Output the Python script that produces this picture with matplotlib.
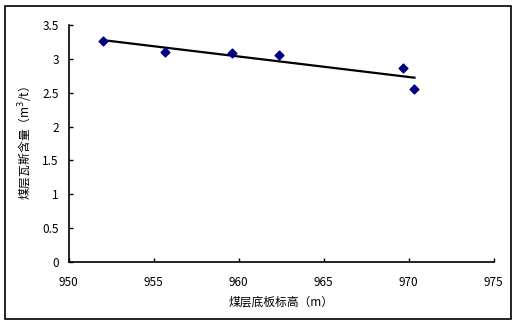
import matplotlib

matplotlib.use("Agg")

import matplotlib.pyplot as plt  # noqa: E402
import numpy as np  # noqa: E402
from matplotlib.patches import Rectangle  # noqa: E402

plt.rcParams["font.family"] = ["Noto Sans CJK SC", "DejaVu Sans"]

# 煤层底板标高 (m) 与 瓦斯含量 (m3/t)
elevation = [952.0, 955.65, 959.6, 962.4, 969.65, 970.35]
gas_content = [3.27, 3.10, 3.08, 3.05, 2.86, 2.56]
x_ticks = [950, 955, 960, 965, 970, 975]
y_ticks = [0, 0.5, 1, 1.5, 2, 2.5, 3, 3.5]

fig = plt.figure(figsize=(5.2, 3.25), dpi=100)
ax = fig.add_axes([68.5 / 520, 1 - 262 / 325, 425 / 520, 237 / 325])

ax.scatter(elevation, gas_content, marker="D", s=20, color="#000080", zorder=3)

# 线性趋势线
k, b = np.polyfit(elevation, gas_content, 1)
xs = np.array([min(elevation), max(elevation)])
ax.plot(xs, k * xs + b, color="black", linewidth=1.6, zorder=2)

ax.set_xlim(950, 975)
ax.set_ylim(0, 3.5)
ax.set_xticks(x_ticks)
ax.set_yticks(y_ticks)
ax.set_yticklabels([f"{v:g}" for v in y_ticks])
ax.tick_params(direction="in", length=3, width=1, labelsize=8.5, pad=7)
ax.tick_params(axis="x", pad=10)
for side in ("top", "right"):
    ax.spines[side].set_visible(False)
for side in ("left", "bottom"):
    ax.spines[side].set_linewidth(1.2)

ax.set_xlabel("煤层底板标高（m）", fontsize=8.5, labelpad=5)
ax.set_ylabel("煤层瓦斯含量（m$^3$/t）", fontsize=8.5, labelpad=5)

fig.patches.append(Rectangle((5 / 520, 6 / 325), 506 / 520, 313 / 325,
                             transform=fig.transFigure, fill=False,
                             edgecolor="black", linewidth=1.2))

fig.savefig("out.png", dpi=100)
